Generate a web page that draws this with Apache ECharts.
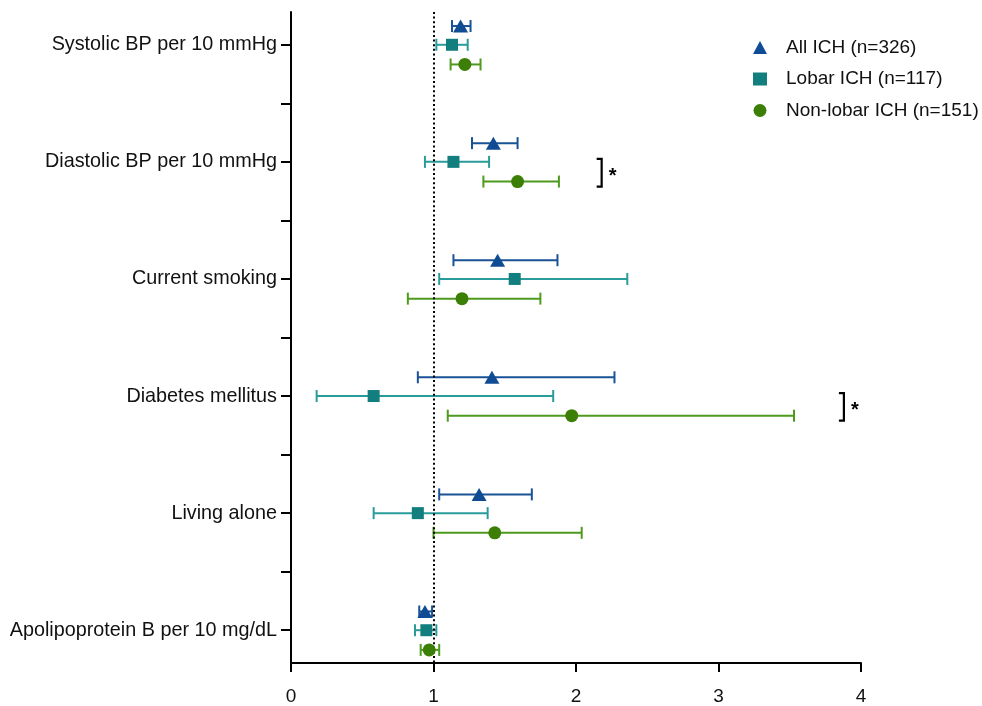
<!DOCTYPE html>
<html>
<head>
<meta charset="utf-8">
<script src="https://cdn.jsdelivr.net/npm/echarts@6/dist/echarts.min.js"></script>
<style>
html,body{margin:0;padding:0;background:#fff;}
#chart{width:982px;height:706px;}
</style>
</head>
<body>
<div id="chart"></div>
<script>
var categories = ["Systolic BP per 10 mmHg","Diastolic BP per 10 mmHg","Current smoking","Diabetes mellitus","Living alone","Apolipoprotein B per 10 mg/dL"];
var xTicks = [0, 1, 2, 3, 4];
var seriesNames = ["All ICH (n=326)", "Lobar ICH (n=117)", "Non-lobar ICH (n=151)"];

var allOR  = [1.19, 1.42, 1.45, 1.41, 1.32, 0.94];
var allLo  = [1.13, 1.27, 1.14, 0.89, 1.04, 0.90];
var allHi  = [1.26, 1.59, 1.87, 2.27, 1.69, 0.99];

var lobarOR = [1.13, 1.14, 1.57, 0.58, 0.89, 0.95];
var lobarLo = [1.02, 0.94, 1.04, 0.18, 0.58, 0.87];
var lobarHi = [1.24, 1.39, 2.36, 1.84, 1.38, 1.02];

var nonOR = [1.22, 1.59, 1.20, 1.97, 1.43, 0.97];
var nonLo = [1.12, 1.35, 0.82, 1.10, 1.00, 0.91];
var nonHi = [1.33, 1.88, 1.75, 3.53, 2.04, 1.04];

// significance brackets (Lobar vs Non-lobar)
var sigRows = [1, 3];
var sigX = [2.18, 3.88];
var sigText = "*";

var FONT = "'Liberation Sans', Arial, Helvetica, sans-serif";
var rowOffset = [-0.16, 0, 0.168];
var markerColors = ["#0f4c94", "#127e7e", "#3c7f06"];
var barColors = ["#1a5296", "#2a9b9b", "#4e9a1c"];
var symbols = ["triangle", "rect", "circle"];
var symbolSizes = [[15, 13], 12, 13];

var groups = [[allOR, allLo, allHi], [lobarOR, lobarLo, lobarHi], [nonOR, nonLo, nonHi]];

var series = [];
groups.forEach(function (g, s) {
  var barData = [], ptData = [];
  for (var i = 0; i < categories.length; i++) {
    barData.push([g[1][i], g[2][i], i + rowOffset[s]]);
    ptData.push([g[0][i], i + rowOffset[s]]);
  }
  series.push({
    type: 'custom',
    name: seriesNames[s] + ' CI',
    silent: true,
    z: 2,
    data: barData,
    encode: { x: [0, 1], y: 2 },
    renderItem: (function (col) {
      return function (params, api) {
        var a = api.coord([api.value(0), api.value(2)]);
        var b = api.coord([api.value(1), api.value(2)]);
        var h = 6;
        var st = { stroke: col, lineWidth: 2, fill: null };
        return {
          type: 'group',
          children: [
            { type: 'line', shape: { x1: a[0], y1: a[1], x2: b[0], y2: b[1] }, style: st },
            { type: 'line', shape: { x1: a[0], y1: a[1] - h, x2: a[0], y2: a[1] + h }, style: st },
            { type: 'line', shape: { x1: b[0], y1: b[1] - h, x2: b[0], y2: b[1] + h }, style: st }
          ]
        };
      };
    })(barColors[s])
  });
  series.push({
    type: 'scatter',
    name: seriesNames[s],
    symbol: symbols[s],
    symbolSize: symbolSizes[s],
    z: 5,
    itemStyle: { color: markerColors[s], opacity: 1 },
    data: ptData,
    markLine: s === 0 ? {
      silent: true,
      symbol: ['none', 'none'],
      label: { show: false },
      lineStyle: { color: '#000', type: [2, 2.6], width: 2 },
      data: [{ xAxis: 1 }]
    } : undefined
  });
});

var sigData = sigRows.map(function (r, k) { return [sigX[k], r + rowOffset[1], r + rowOffset[2]]; });
series.push({
  type: 'custom',
  name: 'sig',
  silent: true,
  z: 3,
  data: sigData,
  encode: { x: 0, y: [1, 2] },
  renderItem: function (params, api) {
    var top = api.coord([api.value(0), api.value(1)]);
    var bot = api.coord([api.value(0), api.value(2)]);
    var y1 = top[1] - 3, y2 = bot[1] + 5, x = top[0];
    return {
      type: 'group',
      children: [
        { type: 'polyline', shape: { points: [[x - 5, y1], [x, y1], [x, y2], [x - 5, y2]] },
          style: { stroke: '#000', lineWidth: 2.2, fill: null } },
        { type: 'text', style: { text: sigText, x: x + 11, y: (y1 + y2) / 2 + 4, fill: '#000',
          font: 'bold 20px ' + FONT, align: 'center', verticalAlign: 'middle' } }
      ]
    };
  }
});

var halfTicks = [];
for (var t = 0; t <= categories.length - 1; t += 0.5) halfTicks.push(t);
var catIdx = categories.map(function (c, i) { return i; });

var chart = echarts.init(document.getElementById('chart'));
chart.setOption({
  animation: false,
  backgroundColor: '#fff',
  textStyle: { fontFamily: FONT },
  grid: { left: 291, right: 121, top: 12, bottom: 41, containLabel: false },
  legend: {
    orient: 'vertical',
    left: 748,
    top: 33,
    itemWidth: 14,
    itemHeight: 13,
    itemGap: 12.5,
    selectedMode: false,
    textStyle: { fontSize: 19, color: '#111', fontFamily: FONT, padding: [0, 0, 0, 14] },
    data: seriesNames.map(function (n, s) {
      return { name: n, icon: symbols[s], itemStyle: { color: markerColors[s] } };
    })
  },
  xAxis: {
    type: 'value',
    min: xTicks[0],
    max: xTicks[xTicks.length - 1],
    interval: 1,
    splitLine: { show: false },
    axisLine: { show: true, onZero: false, lineStyle: { color: '#000', width: 2 } },
    axisTick: { show: true, length: 9, lineStyle: { color: '#000', width: 2 } },
    axisLabel: { fontSize: 19, color: '#111', margin: 24, fontFamily: FONT }
  },
  yAxis: {
    type: 'value',
    inverse: true,
    min: -0.28,
    max: 5.28,
    splitLine: { show: false },
    axisLine: { show: true, onZero: false, lineStyle: { color: '#000', width: 2 } },
    axisTick: { show: true, length: 10, customValues: halfTicks, lineStyle: { color: '#000', width: 2 } },
    axisLabel: {
      fontSize: 19.8, color: '#111', margin: 14, fontFamily: FONT,
      customValues: catIdx,
      formatter: function (v) { return categories[Math.round(v)]; }
    }
  },
  series: series
});
</script>
</body>
</html>
